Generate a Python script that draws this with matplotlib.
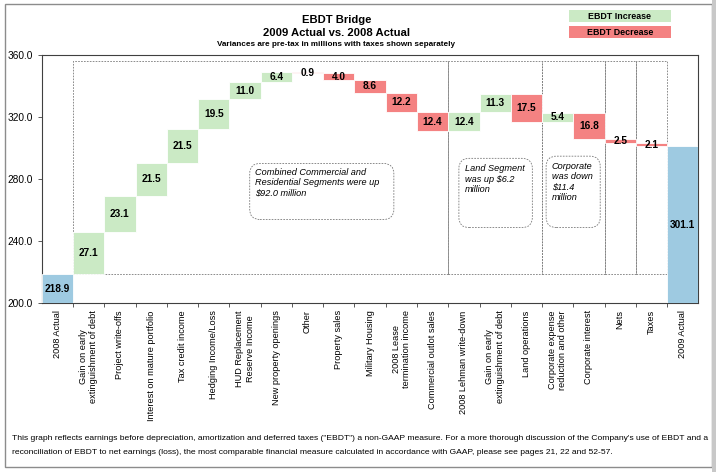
import matplotlib
matplotlib.use('Agg')
import matplotlib.pyplot as plt
from matplotlib.patches import Rectangle, FancyBboxPatch
import numpy as np

plt.rcParams['font.family'] = ['Liberation Sans', 'DejaVu Sans']

GREEN = '#cbeac5'
RED = '#f48282'
BLUE = '#9ecae1'

labels = ['2008 Actual', 'Gain on early\nextinguishment of debt', 'Project write-offs',
          'Interest on mature portfolio', 'Tax credit income', 'Hedging Income/Loss',
          'HUD Replacement\nReserve Income', 'New property openings', 'Other',
          'Property sales', 'Military Housing', '2008 Lease\ntermination income',
          'Commercial outlot sales', '2008 Lehman write-down',
          'Gain on early\nextinguishment of debt', 'Land operations',
          'Corporate expense\nreduction and other', 'Corporate interest', 'Nets',
          'Taxes', '2009 Actual']
start = 218.9
end = 301.1
changes = [27.1, 23.1, 21.5, 21.5, 19.5, 11.0, 6.4, -0.9, -4.0, -8.6, -12.2, -12.4,
           12.4, 11.3, -17.5, 5.4, -16.8, -2.5, -2.1]

# segment groups (first, last category index) shown as dashed boxes
groups = [(1, 12), (13, 15), (16, 17), (18, 18), (19, 19)]
group_top = 356

notes = ['Combined Commercial and\nResidential Segments were up\n$92.0 million',
         'Land Segment\nwas up $6.2\nmillion',
         'Corporate\nwas down\n$11.4\nmillion']

fig = plt.figure(figsize=(7.2, 4.72), dpi=100)
ax = fig.add_axes([0.058, 0.3574, 0.912, 0.5261])

ymin, ymax = 200, 360
x = np.arange(len(labels))

# totals
for i, v in [(0, start), (len(labels) - 1, end)]:
    ax.bar(i, v - ymin, bottom=ymin, width=1.0, color=BLUE, edgecolor='white',
           lw=0.6, zorder=3)
    ax.text(i, (ymin + v) / 2, f'{v:.1f}', ha='center', va='center',
            fontweight='bold', fontsize=7.3, zorder=5)

level = start
for i, d in enumerate(changes, start=1):
    lo = level if d > 0 else level + d
    ax.bar(i, abs(d), bottom=lo, width=1.0, color=GREEN if d > 0 else RED,
           edgecolor='white', lw=0.6, zorder=3)
    ax.text(i, lo + abs(d) / 2, f'{abs(d):.1f}', ha='center', va='center',
            fontweight='bold', fontsize=7.3, zorder=5)
    level += d

for a, b in groups:
    ax.add_patch(Rectangle((a - 0.5, start), b - a + 1, group_top - start, fill=False,
                           ec='#7a7a7a', lw=0.6, ls=(0, (2, 1.5)), zorder=2))

# note boxes
boxes = [(6.15, 254.0, 4.61, 36.1), (12.84, 248.8, 2.35, 44.6), (15.63, 248.8, 1.73, 46.0)]
text_pos = [(6.32, 287.5), (13.03, 289.5), (15.81, 291.2)]
for (bx, by, bw, bh), (tx, ty), t in zip(boxes, text_pos, notes):
    ax.add_patch(FancyBboxPatch((bx, by), bw, bh,
                                boxstyle='round,pad=0,rounding_size=0.33',
                                mutation_aspect=20, fc='white', ec='#7a7a7a',
                                lw=0.6, ls=(0, (2, 1.5)), zorder=2))
    ax.text(tx, ty, t, ha='left', va='top', style='italic', fontsize=6.6,
            linespacing=1.2, zorder=4)

ax.set_xlim(-0.5, len(labels) - 0.5)
ax.set_ylim(ymin, ymax)
ax.set_yticks(np.arange(ymin, ymax + 1, 40))
ax.set_yticklabels([f'{v:.1f}' for v in np.arange(ymin, ymax + 1, 40)])
ax.set_xticks(x)
ax.set_xticklabels(labels, rotation=90, fontsize=6.6, ha='center', va='top',
                   multialignment='center')
ax.set_xticks(np.arange(0.5, len(labels) - 1, 1), minor=True)
ax.tick_params(axis='x', which='major', length=0, pad=5)
ax.tick_params(axis='x', which='minor', length=3, width=0.6, color='#404040')
ax.tick_params(axis='y', labelsize=7.3, length=3, width=0.6, pad=3.5, color='#404040')
for s in ax.spines.values():
    s.set_color('#404040')
    s.set_linewidth(0.8)

# titles
fig.text(0.467, 0.9576, 'EBDT Bridge', ha='center', va='center', fontweight='bold',
         fontsize=8.1)
fig.text(0.467, 0.930, '2009 Actual vs. 2008 Actual', ha='center', va='center',
         fontweight='bold', fontsize=8.1)
fig.text(0.467, 0.9047, 'Variances are pre-tax in millions with taxes shown separately',
         ha='center', va='center', fontweight='bold', fontsize=5.9)

# legend boxes
for yb, col, lab in [(0.954, GREEN, 'EBDT Increase'), (0.920, RED, 'EBDT Decrease')]:
    fig.patches.append(Rectangle((0.790, yb), 0.1417, 0.024, transform=fig.transFigure,
                                 fc=col, ec='none'))
    fig.text(0.790 + 0.1417 / 2, yb + 0.012, lab, ha='center', va='center',
             fontweight='bold', fontsize=6.4)

# footnote
fig.text(0.0167, 1 - 439 / 472,
         'This graph reflects earnings before depreciation, amortization and deferred taxes '
         '("EBDT") a non-GAAP measure. For a more thorough discussion of the Company\'s use of EBDT and a',
         ha='left', va='center', fontsize=6.1)
fig.text(0.0167, 1 - 452 / 472,
         'reconciliation of EBDT to net earnings (loss), the most comparable financial measure '
         'calculated in accordance with GAAP, please see pages 21, 22 and 52-57.',
         ha='left', va='center', fontsize=6.1)

# outer frame
fig.patches.append(Rectangle((0.00625, 0.0106), 0.9826, 0.98, transform=fig.transFigure,
                             fill=False, ec='#8c8c8c', lw=1))
fig.patches.append(Rectangle((712 / 720, 0.0), 4 / 720, 1.0, transform=fig.transFigure,
                             fc='#c8c8c8', ec='none'))

fig.savefig('out.png', dpi=100)
